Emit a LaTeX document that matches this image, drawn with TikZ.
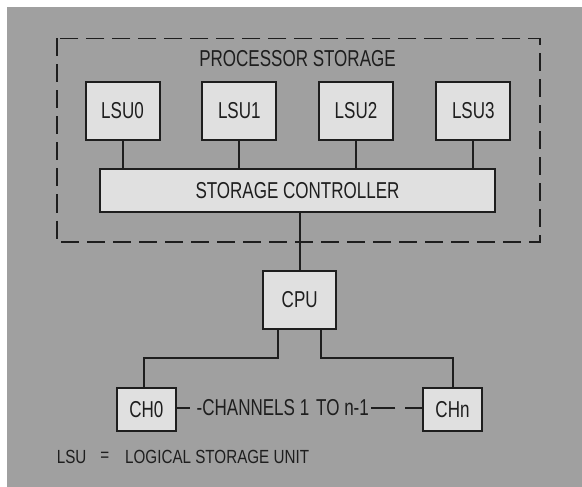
\documentclass[tikz,border=0pt]{standalone}
\usepackage{fontspec}
\setmainfont{Liberation Sans}[FakeStretch=0.74]
\newfontfamily\legendfont{Liberation Sans}[FakeStretch=0.8]
\definecolor{bggray}{RGB}{160,160,160}
\definecolor{boxfill}{RGB}{224,224,224}
\definecolor{ink}{RGB}{30,30,30}
\begin{document}
\begin{tikzpicture}[x=1pt,y=-1pt,
  box/.style={draw=ink,line width=2pt,fill=boxfill,inner sep=0pt,text=ink,
     font=\fontsize{23}{26}\selectfont},
  lsu/.style={box,minimum width=74pt,minimum height=58pt},
  wire/.style={draw=ink,line width=2pt},
  lbl/.style={inner sep=0pt,text=ink,font=\fontsize{23}{26}\selectfont},
  small/.style={inner sep=0pt,text=ink,font=\legendfont\fontsize{19}{22}\selectfont}]
\useasboundingbox (0,0) rectangle (582,487);
\fill[white] (0,0) rectangle (582,487);
\fill[bggray] (7.4,7.3) rectangle (582,487);
% dashed processor storage boundary
\draw[ink,line width=1.6pt,dash pattern=on 18pt off 8pt] (56.7,38.5) rectangle (540,242);
\node[lbl] (ps) at (297.5,59) {PROCESSOR STORAGE};
% LSUs
\node[lsu] (l0) at (122.5,110.9) {LSU0};
\node[lsu] (l1) at (239.3,110.9) {LSU1};
\node[lsu] (l2) at (356,110.9) {LSU2};
\node[lsu] (l3) at (473.3,110.9) {LSU3};
% storage controller
\node[box,minimum width=395pt,minimum height=42.5pt] (sc) at (297.5,190.7) {STORAGE CONTROLLER};
\foreach \n in {l0,l1,l2,l3}{
  \draw[wire] (\n.south) -- (\n.south |- sc.north);
}
% CPU
\node[box,minimum width=72.7pt,minimum height=58.3pt] (cpu) at (299.7,299.9) {CPU};
\draw[wire] (sc.south -| cpu.north) -- (cpu.north);
% channels
\node[box,minimum width=59.3pt,minimum height=42.4pt] (ch0) at (146.3,409.5) {CH0};
\node[box,minimum width=58.4pt,minimum height=42.4pt] (chn) at (452.5,409.5) {CHn};
\coordinate (jl) at (144.3,358.3);
\coordinate (jr) at (452.7,358.3);
\draw[wire] ([xshift=-22pt]cpu.south) |- (jl) -- (jl |- ch0.north);
\draw[wire] ([xshift=21.3pt]cpu.south) |- (jr) -- (jr |- chn.north);
\node[lbl,anchor=west] (chl) at (196.5,408) {-CHANNELS 1\hspace{7pt}TO n-1};
\draw[wire,dash pattern=on 13pt off 30pt] (ch0.east |- chl.west) -- (chl.west);
\draw[wire,dash pattern=on 17pt off 10pt on 60pt] (chn.west |- chl.west) -- ([xshift=2pt]chl.east);
% legend
\node[small,anchor=west] (lg1) at (56.7,456.7) {LSU};
\node[small] (lg2) at (104.8,456.7) {=};
\node[small,anchor=west] (lg3) at (125,456.7) {LOGICAL STORAGE UNIT};
\end{tikzpicture}
\end{document}
